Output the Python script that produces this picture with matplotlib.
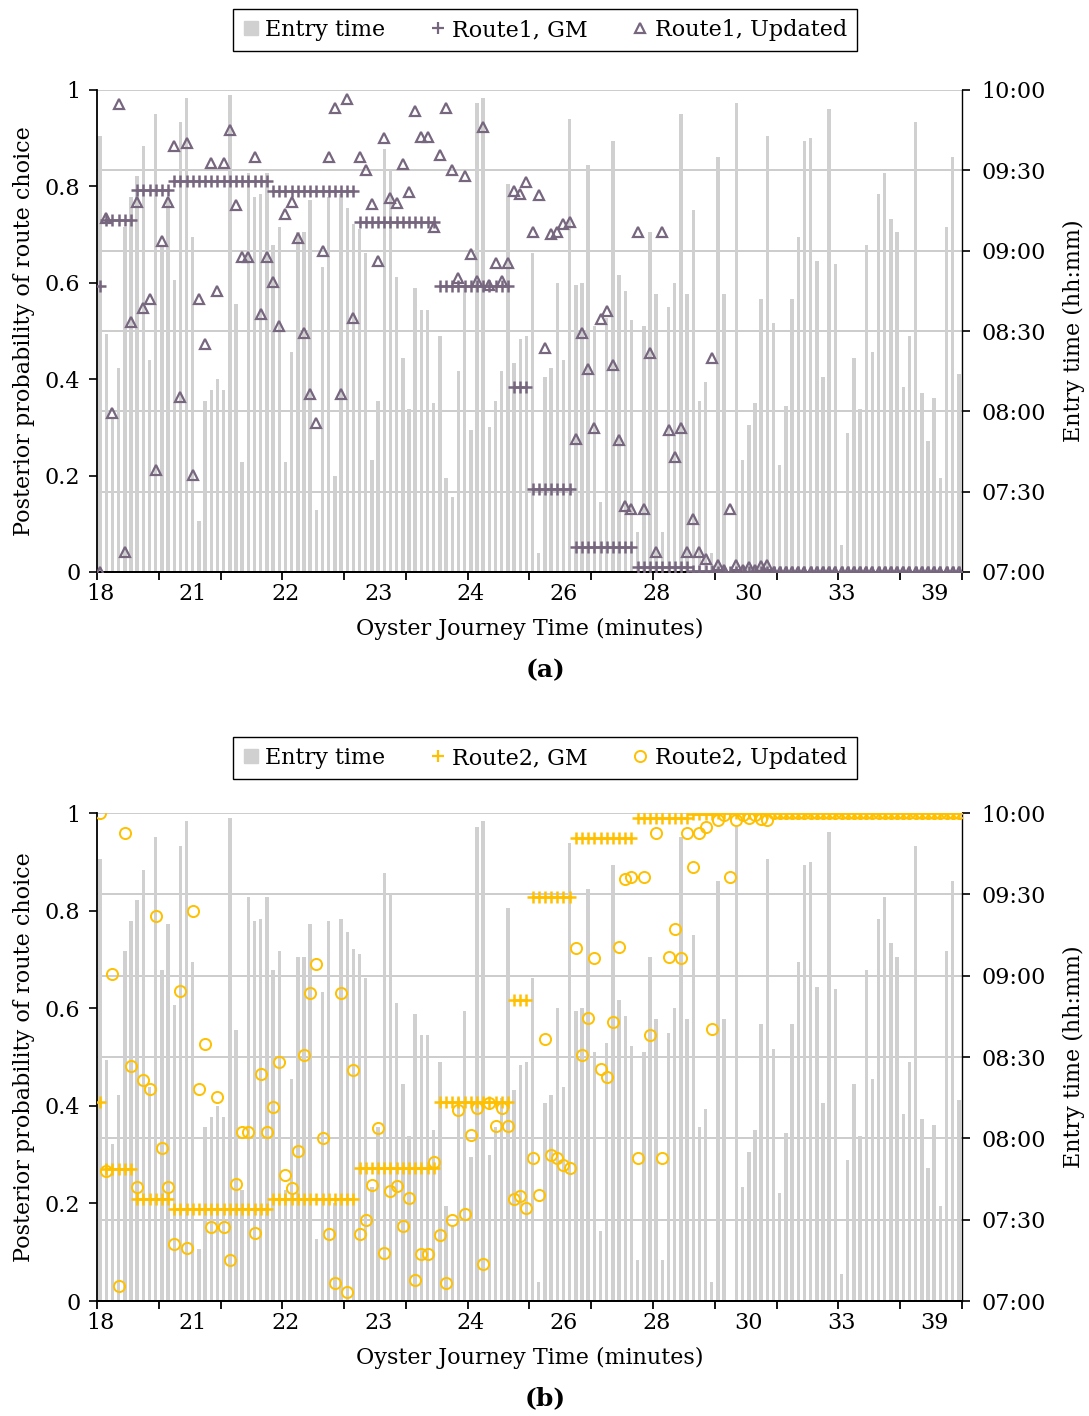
import matplotlib
matplotlib.use("Agg")
import matplotlib.pyplot as plt
import numpy as np
from matplotlib.ticker import FixedLocator, FuncFormatter
from matplotlib.lines import Line2D

# Journey tick labels (one label every 15 journeys, journeys sorted by Oyster time)
tick_labels = ["18", "21", "22", "23", "24", "26", "28", "30", "33", "39"]
label_step = 15

# Entry time of each journey (hh:mm)
entry_time = [
    "09:43", "08:29", "07:58", "08:16", "09:09", "09:20", "09:28", "09:39", "08:19", "09:51",
    "09:02", "09:19", "08:49", "09:48", "09:57", "09:05", "07:19", "08:04", "08:08", "08:12",
    "08:08", "09:58", "08:40", "07:41", "09:29", "09:20", "09:21", "09:29", "09:02", "09:09",
    "07:41", "08:22", "09:07", "09:07", "09:19", "07:23", "08:54", "09:20", "07:36", "09:21",
    "09:16", "09:10", "09:08", "08:59", "07:42", "08:04", "09:38", "09:30", "08:50", "08:20",
    "08:01", "08:46", "08:38", "08:38", "08:03", "08:28", "07:35", "07:28", "08:15", "08:47",
    "07:53", "09:55", "09:57", "07:54", "08:04", "08:15", "09:25", "08:18", "08:27", "08:28",
    "08:59", "07:07", "08:13", "08:16", "08:48", "08:19", "09:49", "08:47", "08:48", "09:32",
    "08:32", "07:26", "08:35", "09:41", "08:51", "08:45", "08:34", "07:15", "08:32", "09:07",
    "08:44", "07:15", "08:39", "08:48", "09:51", "08:44", "09:15", "08:04", "08:11", "07:07",
    "09:35", "08:44", "07:00", "09:55", "07:42", "07:55", "08:03", "08:42", "09:43", "08:33",
    "07:40", "08:02", "08:42", "09:05", "09:41", "09:42", "08:56", "08:13", "09:53", "08:55",
    "07:10", "07:52", "08:20", "08:01", "09:02", "08:22", "09:21", "09:29", "09:12", "09:07",
    "08:09", "08:28", "09:48", "08:07", "07:49", "08:05", "07:35", "09:09", "09:35", "08:14",
]

# Route 1 posterior probability, general model
route1_gm = [
    0.593,
    0.730, 0.730, 0.730, 0.730, 0.730,
    0.792, 0.792, 0.792, 0.792, 0.792, 0.792,
    0.812, 0.812, 0.812, 0.812, 0.812, 0.812, 0.812, 0.812,
    0.812, 0.812, 0.812, 0.812, 0.812, 0.812, 0.812, 0.812,
    0.790, 0.790, 0.790, 0.790, 0.790, 0.790, 0.790,
    0.790, 0.790, 0.790, 0.790, 0.790, 0.790, 0.790,
    0.727, 0.727, 0.727, 0.727, 0.727, 0.727, 0.727,
    0.727, 0.727, 0.727, 0.727, 0.727, 0.727,
    0.593, 0.593, 0.593, 0.593, 0.593, 0.593,
    0.593, 0.593, 0.593, 0.593, 0.593, 0.593,
    0.383, 0.383, 0.383,
    0.172, 0.172, 0.172, 0.172, 0.172, 0.172, 0.172,
    0.051, 0.051, 0.051, 0.051, 0.051, 0.051, 0.051, 0.051, 0.051, 0.051,
    0.011, 0.011, 0.011, 0.011, 0.011, 0.011, 0.011, 0.011, 0.011,
    0.003, 0.003, 0.003, 0.003,
    0.0, 0.0, 0.0, 0.0, 0.0, 0.0, 0.0, 0.0, 0.0, 0.0,
    0.0, 0.0, 0.0, 0.0, 0.0, 0.0, 0.0, 0.0, 0.0, 0.0,
    0.0, 0.0, 0.0, 0.0, 0.0, 0.0, 0.0, 0.0, 0.0, 0.0,
    0.0, 0.0, 0.0, 0.0, 0.0, 0.0, 0.0, 0.0, 0.0, 0.0,
]

# Route 1 posterior probability, updated with entry time
route1_updated = [
    0.000, 0.734, 0.330, 0.970, 0.041, 0.519, 0.767, 0.547, 0.566, 0.212,
    0.687, 0.767, 0.884, 0.364, 0.891, 0.201, 0.566, 0.474, 0.848, 0.582,
    0.848, 0.916, 0.761, 0.654, 0.654, 0.860, 0.535, 0.654, 0.602, 0.511,
    0.742, 0.768, 0.692, 0.495, 0.369, 0.310, 0.667, 0.862, 0.963, 0.369,
    0.981, 0.526, 0.862, 0.833, 0.763, 0.646, 0.901, 0.775, 0.765, 0.846,
    0.789, 0.956, 0.903, 0.903, 0.716, 0.865, 0.963, 0.834, 0.609, 0.822,
    0.659, 0.604, 0.924, 0.595, 0.642, 0.604, 0.642, 0.790, 0.784, 0.810,
    0.706, 0.782, 0.464, 0.701, 0.706, 0.721, 0.727, 0.276, 0.495, 0.421,
    0.298, 0.524, 0.541, 0.429, 0.274, 0.136, 0.131, 0.706, 0.131, 0.454,
    0.041, 0.706, 0.295, 0.238, 0.298, 0.042, 0.110, 0.042, 0.028, 0.443,
    0.015, 0.004, 0.131, 0.015, 0.004, 0.011, 0.004, 0.012, 0.015, 0.001,
    0.001, 0.001, 0.001, 0.001, 0.001, 0.001, 0.001, 0.001, 0.001, 0.001,
    0.001, 0.001, 0.001, 0.001, 0.001, 0.001, 0.001, 0.001, 0.001, 0.001,
    0.001, 0.001, 0.001, 0.001, 0.001, 0.001, 0.001, 0.001, 0.001, 0.001,
]

# Route 2 posterior probability, general model
route2_gm = [
    0.407,
    0.270, 0.270, 0.270, 0.270, 0.270,
    0.208, 0.208, 0.208, 0.208, 0.208, 0.208,
    0.188, 0.188, 0.188, 0.188, 0.188, 0.188, 0.188, 0.188,
    0.188, 0.188, 0.188, 0.188, 0.188, 0.188, 0.188, 0.188,
    0.210, 0.210, 0.210, 0.210, 0.210, 0.210, 0.210,
    0.210, 0.210, 0.210, 0.210, 0.210, 0.210, 0.210,
    0.273, 0.273, 0.273, 0.273, 0.273, 0.273, 0.273,
    0.273, 0.273, 0.273, 0.273, 0.273, 0.273,
    0.407, 0.407, 0.407, 0.407, 0.407, 0.407,
    0.407, 0.407, 0.407, 0.407, 0.407, 0.407,
    0.617, 0.617, 0.617,
    0.828, 0.828, 0.828, 0.828, 0.828, 0.828, 0.828,
    0.949, 0.949, 0.949, 0.949, 0.949, 0.949, 0.949, 0.949, 0.949, 0.949,
    0.989, 0.989, 0.989, 0.989, 0.989, 0.989, 0.989, 0.989, 0.989,
    0.997, 0.997, 0.997, 0.997,
    1.0, 1.0, 1.0, 1.0, 1.0, 1.0, 1.0, 1.0, 1.0, 1.0,
    1.0, 1.0, 1.0, 1.0, 1.0, 1.0, 1.0, 1.0, 1.0, 1.0,
    1.0, 1.0, 1.0, 1.0, 1.0, 1.0, 1.0, 1.0, 1.0, 1.0,
    1.0, 1.0, 1.0, 1.0, 1.0, 1.0, 1.0, 1.0, 1.0, 1.0,
]

# Route 2 posterior probability, updated with entry time
route2_updated = [
    1.000, 0.266, 0.670, 0.030, 0.959, 0.481, 0.233, 0.453, 0.434, 0.788,
    0.313, 0.233, 0.116, 0.636, 0.109, 0.799, 0.434, 0.526, 0.152, 0.418,
    0.152, 0.084, 0.239, 0.346, 0.346, 0.140, 0.465, 0.346, 0.398, 0.489,
    0.258, 0.232, 0.308, 0.505, 0.631, 0.690, 0.333, 0.138, 0.037, 0.631,
    0.019, 0.474, 0.138, 0.167, 0.237, 0.354, 0.099, 0.225, 0.235, 0.154,
    0.211, 0.044, 0.097, 0.097, 0.284, 0.135, 0.037, 0.166, 0.391, 0.178,
    0.341, 0.396, 0.076, 0.405, 0.358, 0.396, 0.358, 0.210, 0.216, 0.190,
    0.294, 0.218, 0.536, 0.299, 0.294, 0.279, 0.273, 0.724, 0.505, 0.579,
    0.702, 0.476, 0.459, 0.571, 0.726, 0.864, 0.869, 0.294, 0.869, 0.546,
    0.959, 0.294, 0.705, 0.762, 0.702, 0.958, 0.890, 0.958, 0.972, 0.557,
    0.985, 0.996, 0.869, 0.985, 0.996, 0.989, 0.996, 0.988, 0.985, 0.999,
    0.999, 0.999, 0.999, 0.999, 0.999, 0.999, 0.999, 0.999, 0.999, 0.999,
    0.999, 0.999, 0.999, 0.999, 0.999, 0.999, 0.999, 0.999, 0.999, 0.999,
    0.999, 0.999, 0.999, 0.999, 0.999, 0.999, 0.999, 0.999, 0.999, 0.999,
]

FONT = "DejaVu Serif"
plt.rcParams["font.family"] = [FONT, "DejaVu Sans"]
FS = 16

BAR_COLOR = "#D0D0D0"
GRID_COLOR = "#BEBEBE"
PURPLE = "#76677F"
GOLD = "#FFC000"

W, H = 1089, 1416
fig = plt.figure(figsize=(W / 100, H / 100), dpi=100)


def px_rect(x0, y_top, x1, y_bot):
    return [x0 / W, 1 - y_bot / H, (x1 - x0) / W, (y_bot - y_top) / H]


def hhmm_to_min(s):
    h, m = s.split(":")
    return int(h) * 60 + int(m)


entry_minutes = np.array([hhmm_to_min(t) for t in entry_time])
idx = np.arange(len(entry_minutes))
START, END = 7 * 60, 10 * 60


def draw_panel(rect, gm, upd, color, gm_name, upd_name, upd_marker, upd_kw,
               legend_y, tag, tag_y):
    ax_t = fig.add_axes(rect)
    ax_p = ax_t.twinx()

    # entry time bars on the time axis (right)
    ax_t.bar(idx, entry_minutes - START, bottom=START, width=0.55,
             color=BAR_COLOR, linewidth=0, zorder=2)
    ax_t.set_ylim(START, END)
    ax_t.set_yticks(np.arange(START, END + 1, 30))
    ax_t.yaxis.set_major_formatter(
        FuncFormatter(lambda v, p: f"{int(v) // 60:02d}:{int(v) % 60:02d}"))
    ax_t.yaxis.tick_right()
    ax_t.yaxis.set_label_position("right")
    ax_t.set_ylabel("Entry time (hh:mm)", fontsize=FS, labelpad=12)
    ax_t.grid(axis="y", color=GRID_COLOR, linewidth=1.1, zorder=1)
    ax_t.set_axisbelow(True)

    ax_t.set_xlim(-0.5, len(idx) - 0.5)
    ax_t.xaxis.set_major_locator(FixedLocator(np.arange(0, len(idx), label_step)))
    ax_t.set_xticklabels(tick_labels)
    ax_t.xaxis.set_minor_locator(FixedLocator(np.arange(-0.5, len(idx), 10)))
    ax_t.tick_params(axis="x", which="major", length=0, pad=8, labelsize=FS)
    ax_t.tick_params(axis="x", which="minor", length=6, width=1.3,
                     direction="out", color="black")
    ax_t.tick_params(axis="y", length=6, width=1.2, direction="out",
                     labelsize=FS, pad=8)
    ax_t.set_xlabel("Oyster Journey Time (minutes)", fontsize=FS, labelpad=9)

    # probabilities on the left axis
    ax_p.plot(idx, gm, linestyle="none", marker="+", markersize=9,
              markeredgewidth=1.8, color=color, zorder=3)
    ax_p.plot(idx, upd, linestyle="none", marker=upd_marker, zorder=4, **upd_kw)
    ax_p.set_ylim(0, 1)
    ax_p.set_yticks(np.arange(0, 1.01, 0.2))
    ax_p.yaxis.set_major_formatter(FuncFormatter(lambda v, p: f"{v:g}"))
    ax_p.yaxis.tick_left()
    ax_p.yaxis.set_label_position("left")
    ax_p.set_ylabel("Posterior probability of route choice", fontsize=FS,
                    labelpad=7)
    ax_p.tick_params(axis="y", length=6, width=1.2, direction="out",
                     labelsize=FS, pad=6)

    for a in (ax_t, ax_p):
        a.spines["top"].set_visible(False)
        a.spines["bottom"].set_linewidth(1.3)
    ax_t.spines["left"].set_visible(False)
    ax_p.spines["right"].set_visible(False)
    ax_p.spines["left"].set_linewidth(1.3)
    ax_t.spines["right"].set_linewidth(1.0)

    handles = [
        Line2D([], [], linestyle="none", marker="s", markersize=10,
               color=BAR_COLOR),
        Line2D([], [], linestyle="none", marker="+", markersize=9,
               markeredgewidth=1.6, color=color),
        Line2D([], [], linestyle="none", marker=upd_marker, **upd_kw),
    ]
    leg = fig.legend(handles, ["Entry time", gm_name, upd_name], loc="center",
                     bbox_to_anchor=(0.5005, legend_y), ncol=3, frameon=True,
                     fancybox=False, edgecolor="black", framealpha=1,
                     fontsize=FS, handlelength=0.7, handletextpad=0.3,
                     columnspacing=2.0, borderpad=0.45, borderaxespad=0)
    leg.get_frame().set_linewidth(1.0)

    fig.text(0.5005, tag_y, tag, ha="center", va="center", fontsize=FS + 2,
             fontweight="bold")


tri_kw = dict(markersize=7.5, markerfacecolor="none", markeredgecolor=PURPLE,
              markeredgewidth=1.6, color=PURPLE)
circ_kw = dict(markersize=8, markerfacecolor="none", markeredgecolor=GOLD,
               markeredgewidth=1.4, color=GOLD)

draw_panel(px_rect(97, 90, 962, 572), route1_gm, route1_updated, PURPLE,
           "Route1, GM", "Route1, Updated", "^", tri_kw,
           1 - 30 / H, "(a)", 1 - 670 / H)
draw_panel(px_rect(97, 813, 962, 1301), route2_gm, route2_updated, GOLD,
           "Route2, GM", "Route2, Updated", "o", circ_kw,
           1 - 758 / H, "(b)", 1 - 1398 / H)

fig.savefig("out.png", dpi=100)
